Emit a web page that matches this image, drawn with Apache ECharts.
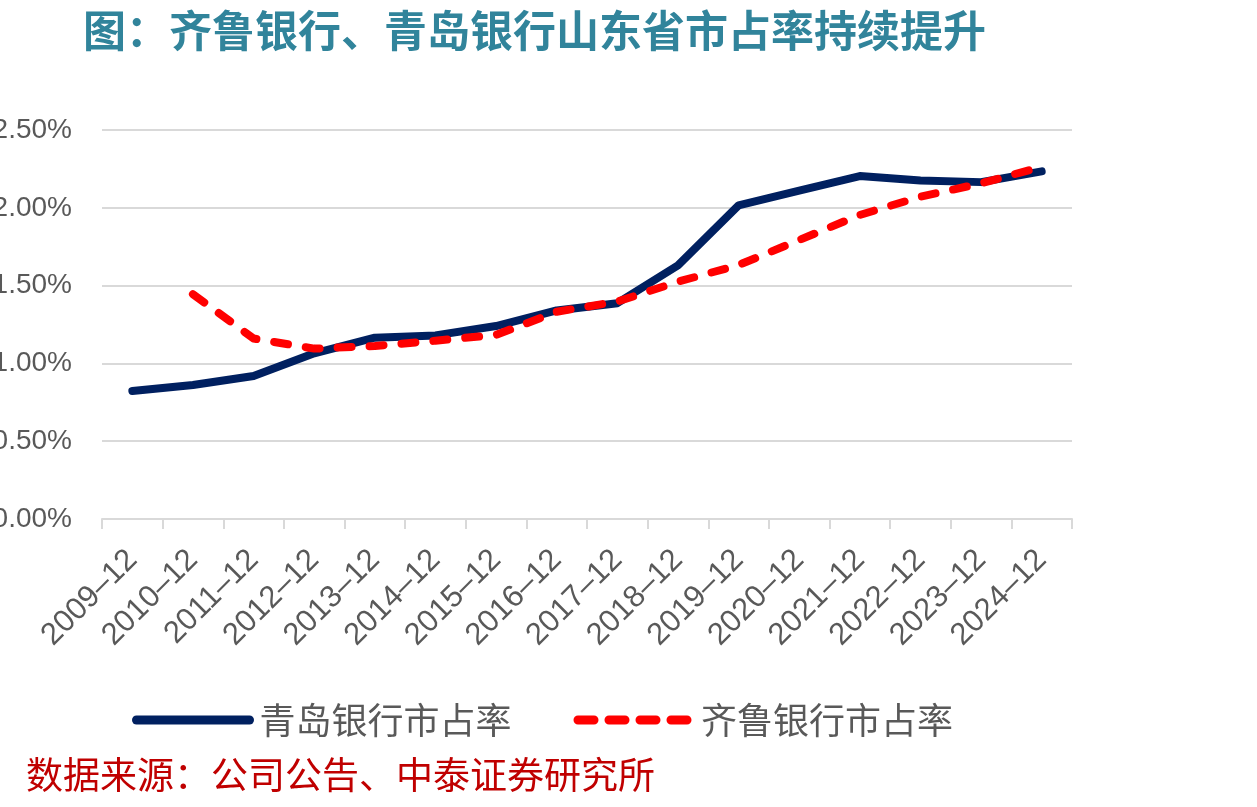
<!DOCTYPE html>
<html>
<head>
<meta charset="utf-8">
<script src="https://cdn.jsdelivr.net/npm/echarts/dist/echarts.min.js"></script>
<style>
html,body{margin:0;padding:0;background:#fff;}
#chart{width:1257px;height:807px;}
</style>
</head>
<body>
<div id="chart"></div>
<script>
var categories = ['2009-12','2010-12','2011-12','2012-12','2013-12','2014-12','2015-12','2016-12','2017-12','2018-12','2019-12','2020-12','2021-12','2022-12','2023-12','2024-12'];
var qingdaoShare = [0.823, 0.861, 0.919, 1.065, 1.165, 1.18, 1.24, 1.34, 1.387, 1.63, 2.015, 2.11, 2.204, 2.175, 2.165, 2.234];
var qiluShare = [null, 1.445, 1.16, 1.095, 1.112, 1.146, 1.183, 1.332, 1.397, 1.525, 1.632, 1.793, 1.954, 2.071, 2.157, 2.264];
var seriesNames = ['青岛银行市占率', '齐鲁银行市占率'];
var titleText = '图：齐鲁银行、青岛银行山东省市占率持续提升';
var sourceText = '数据来源：公司公告、中泰证券研究所';

var chart = echarts.init(document.getElementById('chart'), null, {renderer: 'canvas'});
var gray = '#595959';
var cjk = '"Noto Sans CJK SC", sans-serif';
var latin = '"Liberation Sans", Arial, sans-serif';
chart.setOption({
  animation: false,
  backgroundColor: '#ffffff',
  title: [
    {text: titleText, left: 78, top: 4,
     textStyle: {fontFamily: cjk, fontSize: 43, fontWeight: 'bold', color: '#31849B'}},
    {text: sourceText, left: 21, top: 751,
     textStyle: {fontFamily: cjk, fontSize: 37, fontWeight: 'normal', color: '#C00000'}}
  ],
  legend: {
    left: 127, top: 694,
    itemWidth: 113, itemHeight: 14, itemGap: 62,
    data: [
      {name: seriesNames[0], itemStyle: {opacity: 0},
       lineStyle: {color: '#002060', width: 9, type: 'solid', cap: 'round'}},
      {name: seriesNames[1], itemStyle: {opacity: 0},
       lineStyle: {color: '#FF0000', width: 9, type: [16, 15], cap: 'round'}}
    ],
    textStyle: {fontFamily: cjk, fontSize: 36, color: gray, lineHeight: 42, padding: [0,0,0,5]}
  },
  grid: {left: 102, right: 185, top: 130, bottom: 288, containLabel: false, outerBoundsMode: 'none'},
  xAxis: {
    type: 'category',
    data: categories,
    boundaryGap: true,
    axisLine: {show: true, lineStyle: {color: '#D9D9D9', width: 2}},
    axisTick: {show: true, length: 10, alignWithLabel: false, lineStyle: {color: '#D9D9D9', width: 2}},
    axisLabel: {rotate: 45, margin: 36, interval: 0, fontFamily: latin, fontSize: 31, color: gray,
      formatter: function (v) { return v.replace('-', '\u2013'); }}
  },
  yAxis: {
    type: 'value',
    min: 0, max: 2.5, interval: 0.5,
    axisLine: {show: false},
    axisTick: {show: false},
    splitLine: {show: true, lineStyle: {color: '#D9D9D9', width: 2}},
    axisLabel: {margin: 30, fontFamily: latin, fontSize: 28, color: gray,
      formatter: function (v) { return v.toFixed(2) + '%'; }}
  },
  series: [
    {name: seriesNames[0], type: 'line', data: qingdaoShare, symbol: 'none', smooth: false,
     itemStyle: {color: '#002060'},
     lineStyle: {color: '#002060', width: 8, cap: 'round', join: 'round'}},
    {name: seriesNames[1], type: 'line', data: qiluShare, symbol: 'none', smooth: false,
     itemStyle: {color: '#FF0000'},
     lineStyle: {color: '#FF0000', width: 8, type: [14, 18], cap: 'round', join: 'round'}}
  ]
});
</script>
</body>
</html>
